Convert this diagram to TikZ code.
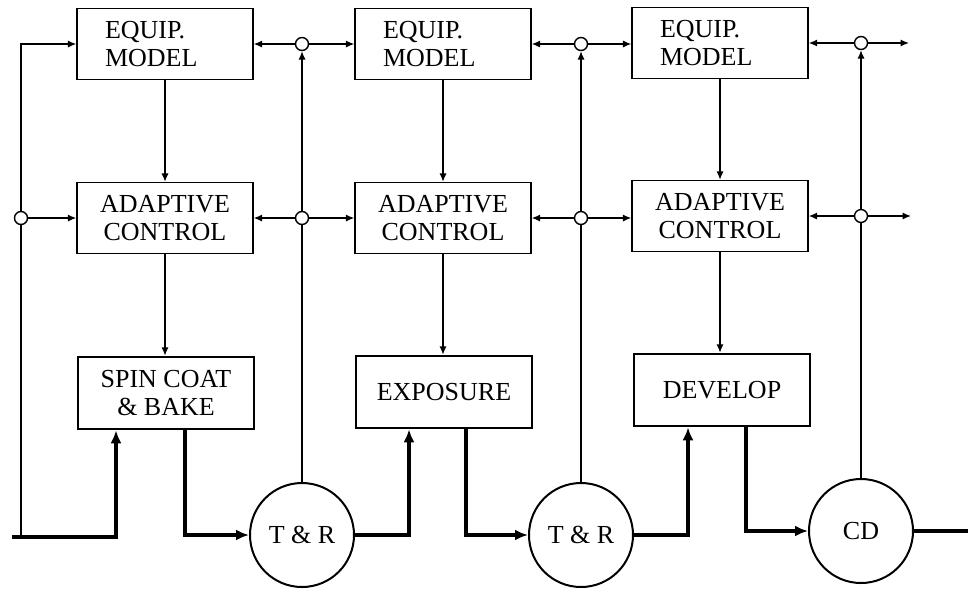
\documentclass[tikz,border=0pt]{standalone}
\usepackage{fontspec}
\setmainfont{Liberation Serif}
\usetikzlibrary{arrows.meta,calc}
\begin{document}
\begin{tikzpicture}[x=0.5pt,y=-0.5pt,
  font=\fontsize{13}{14}\selectfont,
  thinline/.style={line width=0.7pt},
  thickline/.style={line width=1.6pt},
  thinarr/.style={thinline,-{Latex[length=4.2pt,width=3.6pt]}},
  thickarr/.style={thickline,-{Latex[length=6.5pt,width=5.5pt]}},
  modelbox/.style={draw,line width=0.7pt,minimum width=88pt,minimum height=35.5pt,inner sep=0pt},
  leftbox/.style={modelbox,text width=60pt,inner xsep=14pt,align=left},
  ctrlbox/.style={modelbox,align=center},
  procbox/.style={draw,line width=1.3pt,minimum width=88pt,minimum height=36pt,inner sep=0pt,align=center},
  bigcirc/.style={draw,circle,line width=1pt,minimum size=52pt,inner sep=0pt},
  junc/.style={draw,circle,line width=0.7pt,minimum size=6.5pt,inner sep=0pt,fill=white}]
\useasboundingbox (0,0) rectangle (968,590);
% boxes
\node[leftbox] (em1) at (165,44) {EQUIP.\\MODEL};
\node[leftbox] (em2) at (443,44) {EQUIP.\\MODEL};
\node[leftbox] (em3) at (720,43) {EQUIP.\\MODEL};
\node[ctrlbox] (ac1) at (165,218) {ADAPTIVE\\CONTROL};
\node[ctrlbox] (ac2) at (443,218) {ADAPTIVE\\CONTROL};
\node[ctrlbox] (ac3) at (720,216) {ADAPTIVE\\CONTROL};
\node[procbox] (p1) at (166,393) {SPIN COAT\\\& BAKE};
\node[procbox] (p2) at (444,392) {EXPOSURE};
\node[procbox] (p3) at (722,390) {DEVELOP};
% circles
\node[bigcirc] (tr1) at (302,535) {T \& R};
\node[bigcirc] (tr2) at (581,535) {T \& R};
\node[bigcirc] (cd) at (861,531) {CD};
% junctions
\node[junc] (l1) at (21,218) {};
\node[junc] (j1a) at (302,44) {};
\node[junc] (j1b) at (302,218) {};
\node[junc] (j2a) at (581,44) {};
\node[junc] (j2b) at (581,218) {};
\node[junc] (j3a) at (861,43) {};
\node[junc] (j3b) at (861,216) {};
% free ends
\coordinate (in0) at (12,537);
\coordinate (lb) at (21,537);
\coordinate (o1) at (909,43);
\coordinate (o2) at (911,216);
\coordinate (out) at (968,531);
% vertical flows within columns
\draw[thinarr] (em1) -- (ac1);
\draw[thinarr] (ac1) -- (p1.north -| ac1.south);
\draw[thinarr] (em2) -- (ac2);
\draw[thinarr] (ac2) -- (p2.north -| ac2.south);
\draw[thinarr] (em3) -- (ac3);
\draw[thinarr] (ac3) -- (p3.north -| ac3.south);
% left feed
\draw[thinline] (lb) -- (l1.south);
\draw[thinarr] (l1.north) |- (em1.west);
\draw[thinarr] (l1) -- (ac1.west |- l1);
% junction column 1
\draw[thinarr] (j1a) -- (em1.east |- j1a);
\draw[thinarr] (j1a) -- (em2.west |- j1a);
\draw[thinarr] (j1b) -- (ac1.east |- j1b);
\draw[thinarr] (j1b) -- (ac2.west |- j1b);
\draw[thinline] (tr1) -- (j1b);
\draw[thinarr] (j1b) -- (j1a);
% junction column 2
\draw[thinarr] (j2a) -- (em2.east |- j2a);
\draw[thinarr] (j2a) -- (em3.west |- j2a);
\draw[thinarr] (j2b) -- (ac2.east |- j2b);
\draw[thinarr] (j2b) -- (ac3.west |- j2b);
\draw[thinline] (tr2) -- (j2b);
\draw[thinarr] (j2b) -- (j2a);
% junction column 3
\draw[thinarr] (j3a) -- (em3.east |- j3a);
\draw[thinarr] (j3a) -- (o1);
\draw[thinarr] (j3b) -- (ac3.east |- j3b);
\draw[thinarr] (j3b) -- (o2);
\draw[thinline] (cd) -- (j3b);
\draw[thinarr] (j3b) -- (j3a);
% thick material flow
\draw[thickarr] (in0) -| ([xshift=-25pt]p1.south);
\draw[thickarr] ([xshift=9.5pt]p1.south) |- (tr1);
\draw[thickarr] (tr1) -| ([xshift=-17.5pt]p2.south);
\draw[thickarr] ([xshift=11pt]p2.south) |- (tr2);
\draw[thickarr] (tr2) -| ([xshift=-17pt]p3.south);
\draw[thickarr] ([xshift=12pt]p3.south) |- (cd);
\draw[thickline] (cd) -- (out);
\end{tikzpicture}
\end{document}
